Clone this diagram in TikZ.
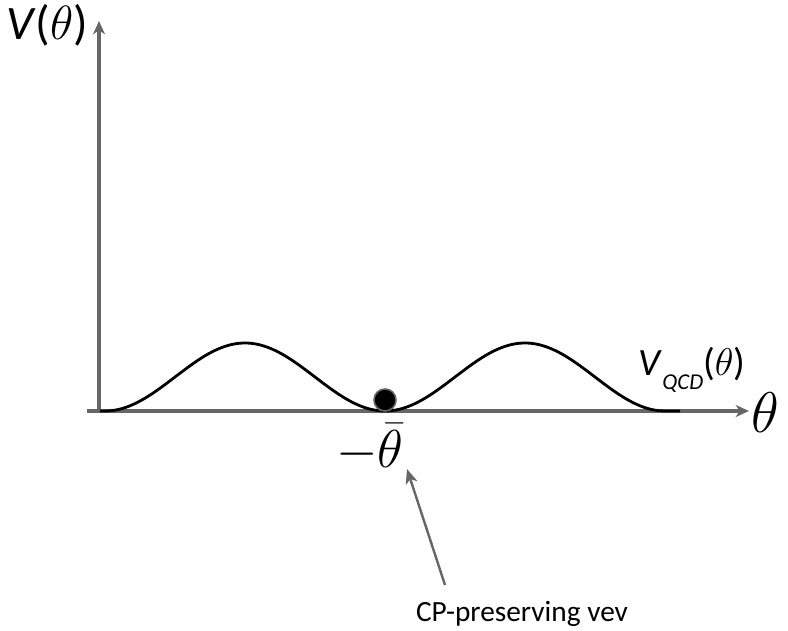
\RequirePackage{fix-cm}
\documentclass[tikz,border=0pt]{standalone}
\usepackage{fontspec}
\setmainfont{Carlito}
\usetikzlibrary{arrows.meta}
\definecolor{axisgray}{HTML}{666666}

\begin{document}
\begin{tikzpicture}[x=0.75pt, y=-0.75pt,
    axis/.style={draw=axisgray, line width=2.3pt, -{Stealth[length=10pt, width=9pt, inset=3pt]}},
    potential/.style={draw=black, line width=2.1pt},
    pointer/.style={draw=axisgray, line width=1.8pt, -{Stealth[length=11pt, width=9pt, inset=3pt]}},
    ball/.style={circle, fill=black, draw=axisgray, line width=1.2pt, inner sep=0pt, minimum size=16.5pt},
    lbl/.style={inner sep=0pt}
]
\useasboundingbox (0,0) rectangle (788,631);

% axes
\coordinate (origin) at (99,411);
\coordinate (xstart) at (87,411);
\coordinate (xend) at (749,411);
\coordinate (yend) at (99,21);
\draw[axis] (xstart) -- (xend);
\draw[axis] (origin) -- (yend);

% two-bump potential
\draw[potential] (100,411) -- plot[domain=105:665, samples=120, smooth] (\x, {411-34*(1-cos((\x-385)*9/7))}) -- (680,411);

% labels
\node[lbl] (vlabel) at (47,25) {\fontsize{36}{40}\selectfont\textit{V}($\theta$)};
\node[lbl, anchor=base] (vqcd) at (692,375) {\fontsize{29}{32}\selectfont\textit{V}\raisebox{-11pt}{\fontsize{17}{20}\selectfont\textit{QCD}}($\theta$)};
\node[lbl] (thetalabel) at (765,413) {\fontsize{43}{46}\selectfont$\theta$};
\node[lbl] (minbar) at (370,448) {\fontsize{40}{44}\selectfont$-\bar{\theta}$};

% vacuum
\node[ball] (vacuum) at (385,400) {};

% pointer to the minimum
\node[lbl, anchor=base] (vev) at (522,621) {\fontsize{22}{25}\selectfont CP-preserving vev};
\coordinate (vevtail) at (445,585);
\coordinate (vevtip) at (407,469);
\draw[pointer] (vevtail) -- (vevtip);
\end{tikzpicture}
\end{document}
